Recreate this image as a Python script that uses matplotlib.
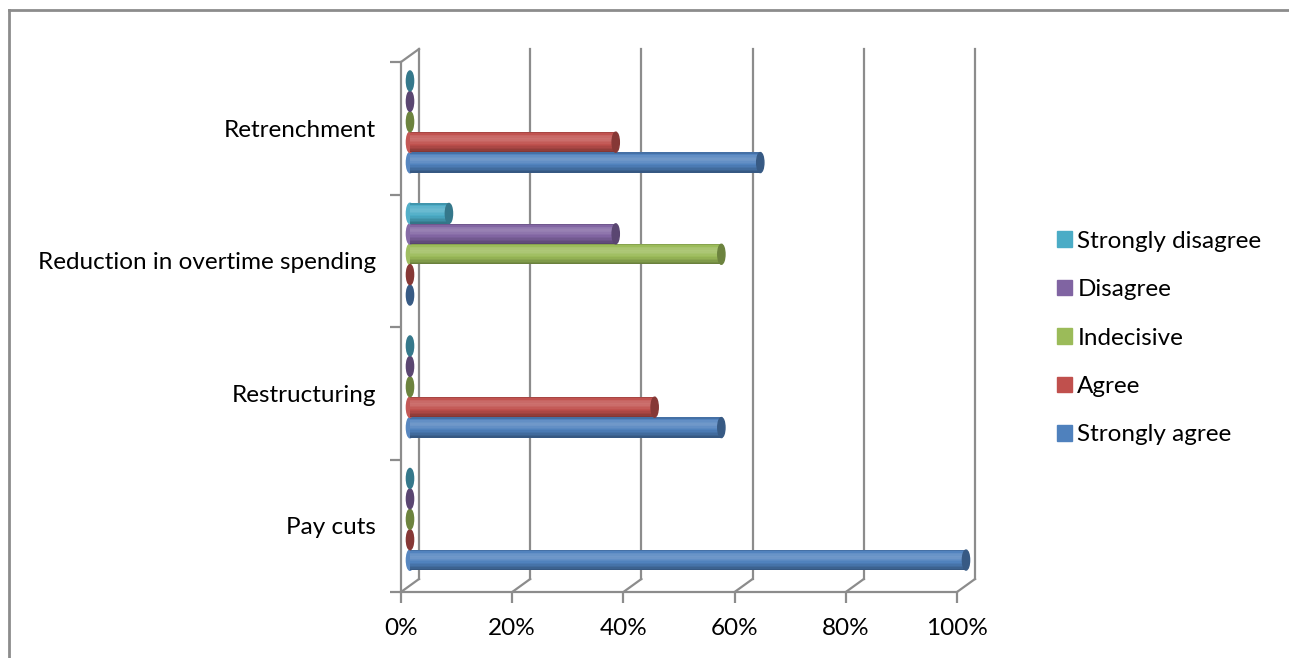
import matplotlib.pyplot as plt
import matplotlib.colors as mcolors
from matplotlib.patches import Ellipse, Patch
from matplotlib.lines import Line2D
import numpy as np

categories = ['Pay cuts', 'Restructuring', 'Reduction in overtime spending', 'Retrenchment']
series = ['Strongly agree', 'Agree', 'Indecisive', 'Disagree', 'Strongly disagree']
strongly_agree = [100, 56, 0, 63]
agree = [0, 44, 0, 37]
indecisive = [0, 0, 56, 0]
disagree = [0, 0, 37, 0]
strongly_disagree = [0, 0, 7, 0]
values = [strongly_agree, agree, indecisive, disagree, strongly_disagree]
x_ticks = [0, 20, 40, 60, 80, 100]

colors = ['#4F81BD', '#C0504D', '#9BBB59', '#8064A2', '#4BACC6']
grey = '#8C8C8C'


def shade(c, f):
    r, g, b = mcolors.to_rgb(c)
    if f >= 1:
        t = f - 1
        return (r + (1 - r) * t, g + (1 - g) * t, b + (1 - b) * t)
    return (r * f, g * f, b * f)


W, H = 1289, 658
fig = plt.figure(figsize=(W / 100, H / 100), dpi=100)
# front plane of the 3-D box in pixels
left, right, top, bottom = 401, 957, 62, 592
ax = fig.add_axes([left / W, 1 - bottom / H, (right - left) / W, (bottom - top) / H])
ax.set_xlim(0, 100)
ax.set_ylim(-0.5, len(categories) - 0.5)
ax.patch.set_alpha(0)

# depth offset of the back plane, in data units
DX = 18 / (right - left) * 100
DY = 13 / (bottom - top) * len(categories)

for s in ['top', 'right']:
    ax.spines[s].set_visible(False)
for s in ['left', 'bottom']:
    ax.spines[s].set_color(grey)
    ax.spines[s].set_linewidth(1.6)

font = 'Lato'
fs = 17.5
ax.set_xticks(x_ticks)
ax.set_xticklabels([f'{t}%' for t in x_ticks], fontsize=fs, family=font)
ax.tick_params(axis='x', length=8, width=1.6, color=grey, pad=11)
ax.set_yticks(np.arange(-0.5, len(categories), 1.0))
ax.set_yticklabels([])
ax.tick_params(axis='y', length=8, width=1.6, color=grey)
ax.set_yticks(np.arange(len(categories)), minor=True)
ax.set_yticklabels(categories, minor=True, fontsize=fs, family=font)
ax.tick_params(axis='y', which='minor', length=0, pad=18)

# back wall grid lines and floor diagonals
y0, y1 = -0.5, len(categories) - 0.5
for t in x_ticks:
    ax.plot([t + DX, t + DX], [y0 + DY, y1 + DY], color=grey, lw=1.6, clip_on=False, zorder=1)
    ax.plot([t, t + DX], [y0, y0 + DY], color=grey, lw=1.6, clip_on=False, zorder=1)
ax.plot([0, DX], [y1, y1 + DY], color=grey, lw=1.6, clip_on=False, zorder=1)

# cylinders, shaded from top edge to bottom edge
bh = 0.154
cap_w = 1.3
profile_pos = [0.0, 0.15, 0.35, 0.55, 0.8, 1.0]
profile_val = [0.8, 1.1, 1.2, 1.05, 0.85, 0.65]
n = 14
fracs = (np.arange(n) + 0.5) / n
factors = np.interp(fracs, profile_pos, profile_val)
for i, (vals, c) in enumerate(zip(values, colors)):
    for j, v in enumerate(vals):
        yc = j + (i - 2) * bh + DY / 2
        x0 = DX / 2
        if v > 0:
            ax.add_patch(Ellipse((x0, yc), cap_w, bh, color=shade(c, 1.05), zorder=3, clip_on=False))
            for fr, f in zip(fracs, factors):
                ys = yc + bh / 2 - fr * bh
                ax.barh(ys, v, height=bh / n * 1.05, left=x0, color=shade(c, f), lw=0,
                        zorder=3, clip_on=False)
        ax.add_patch(Ellipse((x0 + v, yc), cap_w, bh * 0.98, color=shade(c, 0.7), zorder=4, clip_on=False))

handles = [Patch(color=c) for c in colors][::-1]
fig.legend(handles, series[::-1], loc='center left', bbox_to_anchor=(1035 / W, 1 - 338 / H),
           frameon=False, handlelength=0.62, handleheight=0.62, labelspacing=1.13,
           handletextpad=0.22, prop={'family': font, 'size': fs})

# outer chart border (left and top only visible)
fig.add_artist(Line2D([9 / W, 9 / W], [0, 1 - 10 / H], color=grey, lw=2))
fig.add_artist(Line2D([9 / W, 1], [1 - 10 / H, 1 - 10 / H], color=grey, lw=2))

fig.savefig('out.png', dpi=100)
